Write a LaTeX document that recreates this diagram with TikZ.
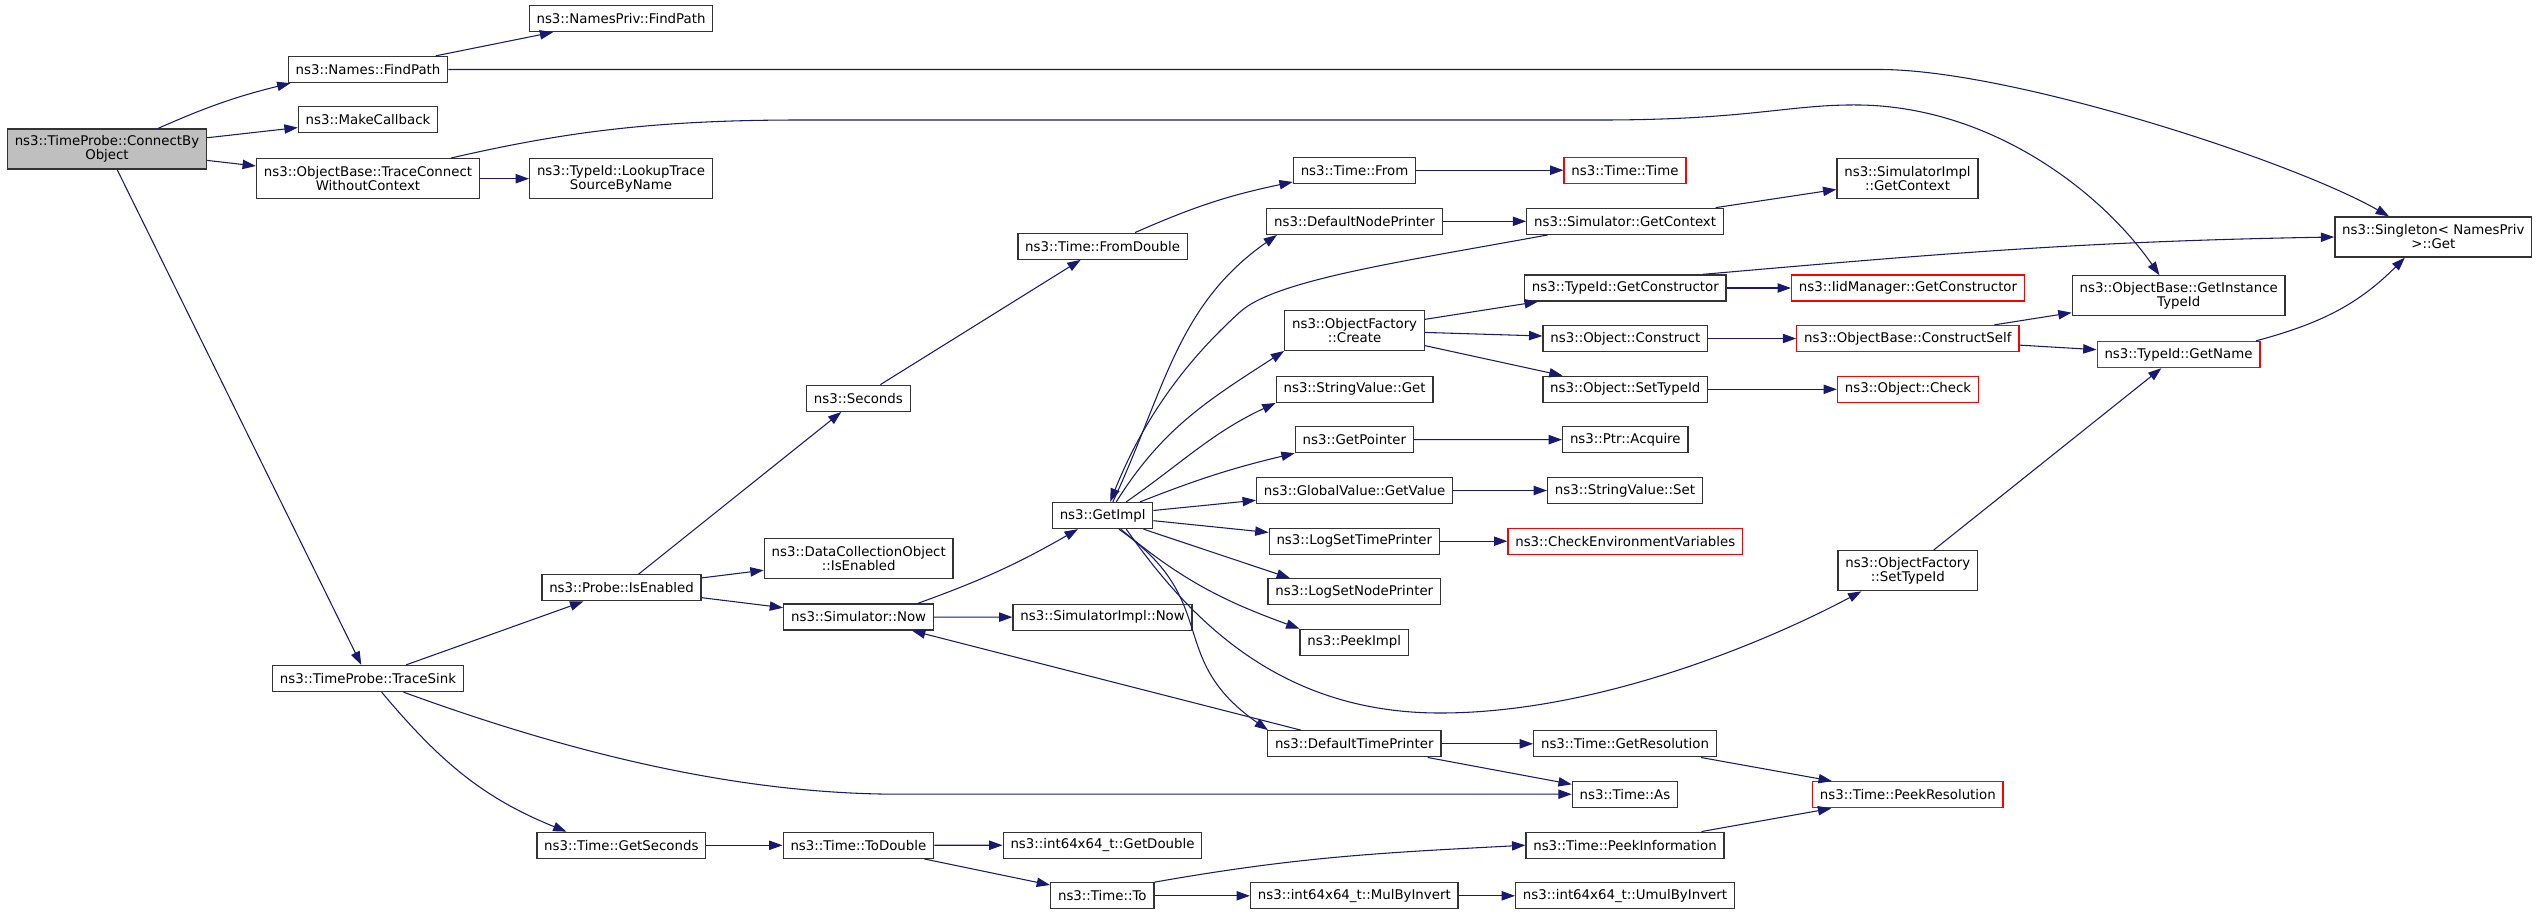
\documentclass[tikz,border=0pt]{standalone}
\usepackage{fontspec}
\setmainfont{DejaVu Sans}
\usetikzlibrary{arrows.meta}

\definecolor{callblue}{HTML}{191970}
\definecolor{rootgray}{HTML}{BFBFBF}

\tikzset{
  fn/.style={draw=black!80, line width=1pt, fill=white, inner xsep=5.5pt,
    inner ysep=2pt, minimum height=19.5pt, align=center,
    font=\fontsize{10}{10.5}\selectfont},
  fnred/.style={fn, draw=red},
  fntwo/.style={fn, minimum height=30pt},
  call/.style={draw=callblue, line width=0.8pt,
    -{Triangle[length=10pt,width=7pt]}}
}

\begin{document}
\begin{tikzpicture}[x=0.75pt,y=0.75pt]
      \useasboundingbox (0,0) rectangle (2539,-915);



      \node[fntwo, fill=rootgray] (cbo) at (107,-149) {ns3::TimeProbe::ConnectBy\\Object};

      \node[fn] (nfp) at (368,-69.5) {ns3::Names::FindPath};
      \node[fn] (mcb) at (368,-119.7) {ns3::MakeCallback};
      \node[fntwo] (tcwc) at (368,-178.7) {ns3::ObjectBase::TraceConnect\\WithoutContext};
      \node[fn] (ts) at (368,-678.5) {ns3::TimeProbe::TraceSink};

      \node[fn] (npfp) at (621,-18.5) {ns3::NamesPriv::FindPath};
      \node[fntwo] (ltsn) at (621,-178.7) {ns3::TypeId::LookupTrace\\SourceByName};
      \node[fn] (pie) at (621.5,-587.8) {ns3::Probe::IsEnabled};
      \node[fn] (gs) at (621.3,-845.3) {ns3::Time::GetSeconds};

      \node[fn] (sec) at (858.4,-398.3) {ns3::Seconds};
      \node[fntwo] (dco) at (858.7,-558.5) {ns3::DataCollectionObject\\::IsEnabled};
      \node[fn] (snow) at (858.6,-617) {ns3::Simulator::Now};
      \node[fn] (td) at (858.4,-845.3) {ns3::Time::ToDouble};

      \node[fn] (fd) at (1102.6,-246.2) {ns3::Time::FromDouble};
      \node[fn] (gi) at (1102.6,-515.5) {ns3::GetImpl};
      \node[fn] (sin) at (1102.6,-617.2) {ns3::SimulatorImpl::Now};
      \node[fn] (gd) at (1102.5,-845.2) {ns3::int64x64\_t::GetDouble};
      \node[fn] (tto) at (1102.3,-895.8) {ns3::Time::To};

      \node[fn] (tf) at (1354.5,-170.2) {ns3::Time::From};
      \node[fn] (dnp) at (1354.5,-221.3) {ns3::DefaultNodePrinter};
      \node[fntwo] (ofc) at (1354.6,-330.3) {ns3::ObjectFactory\\::Create};
      \node[fn] (svg) at (1354.6,-389.3) {ns3::StringValue::Get};
      \node[fn] (gp) at (1354.4,-439.5) {ns3::GetPointer};
      \node[fn] (ggv) at (1354.6,-490.5) {ns3::GlobalValue::GetValue};
      \node[fn] (lstp) at (1354.3,-541.2) {ns3::LogSetTimePrinter};
      \node[fn] (lsnp) at (1354.3,-591.8) {ns3::LogSetNodePrinter};
      \node[fn] (peek) at (1354.3,-642.3) {ns3::PeekImpl};
      \node[fn] (dtp) at (1354.3,-743.8) {ns3::DefaultTimePrinter};
      \node[fn] (mbi) at (1354.3,-895.8) {ns3::int64x64\_t::MulByInvert};

      \node[fnred] (tt) at (1625,-170.2) {ns3::Time::Time};
      \node[fn] (sgc) at (1625.1,-221.3) {ns3::Simulator::GetContext};
      \node[fn] (tgc) at (1625.3,-288) {ns3::TypeId::GetConstructor};
      \node[fn] (oc) at (1625.3,-338.5) {ns3::Object::Construct};
      \node[fn] (ost) at (1625.3,-389.3) {ns3::Object::SetTypeId};
      \node[fn] (pa) at (1625.3,-439.7) {ns3::Ptr::Acquire};
      \node[fn] (svs) at (1625,-490.5) {ns3::StringValue::Set};
      \node[fnred] (cev) at (1625.3,-541.2) {ns3::CheckEnvironmentVariables};
      \node[fn] (tgr) at (1625,-743.8) {ns3::Time::GetResolution};
      \node[fn] (tas) at (1625,-794.2) {ns3::Time::As};
      \node[fn] (tpi) at (1625,-845.2) {ns3::Time::PeekInformation};
      \node[fn] (umi) at (1625,-895.8) {ns3::int64x64\_t::UmulByInvert};

      \node[fntwo] (sigc) at (1907.5,-178.7) {ns3::SimulatorImpl\\::GetContext};
      \node[fnred] (igc) at (1908,-288) {ns3::IidManager::GetConstructor};
      \node[fnred] (ocs) at (1907.8,-338.5) {ns3::ObjectBase::ConstructSelf};
      \node[fnred] (ochk) at (1908,-389.3) {ns3::Object::Check};
      \node[fntwo] (ofst) at (1907.8,-570.7) {ns3::ObjectFactory\\::SetTypeId};
      \node[fnred] (tpr) at (1907.8,-794.7) {ns3::Time::PeekResolution};

      \node[fntwo] (gitid) at (2178.7,-295.8) {ns3::ObjectBase::GetInstance\\TypeId};
      \node[fnred] (tgn) at (2178.5,-354.5) {ns3::TypeId::GetName};

      \node[fntwo] (sng) at (2433.3,-237) {ns3::Singleton< NamesPriv\\>::Get};



      \draw[call] (cbo.22) to[bend left=5] (nfp.190);
      \draw[call] (cbo) -- (mcb);
      \draw[call] (cbo) -- (tcwc);
      \draw[call] (cbo) -- (ts);

      \draw[call] (nfp) -- (npfp);
      \draw[call] (nfp.east) -- (1880,-69.5) .. controls (2010,-69.5) and (2290,-160) .. (sng.155);
      \draw[call] (tcwc) -- (ltsn);
      \draw[call] (tcwc.14) .. controls (560,-133) and (650,-120) .. (800,-120) -- (1600,-120)
        .. controls (1750,-120) and (1790,-104) .. (1860,-105)
        .. controls (1990,-107) and (2100,-190) .. (gitid.133);

      \draw[call] (ts) -- (pie);
      \draw[call] (ts.-21) .. controls (600,-764) and (760,-794.2) .. (900,-794.2) -- (tas.west);
      \draw[call] (ts.-45) to[out=-50,in=158] (gs.166);

      \draw[call] (pie) -- (sec);
      \draw[call] (pie) -- (dco);
      \draw[call] (pie) -- (snow);
      \draw[call] (sec) -- (fd);
      \draw[call] (fd) to[bend left=6] (tf);
      \draw[call] (tf) -- (tt);

      \draw[call] (snow.13) to[bend right=5] (gi.209);
      \draw[call] (snow) -- (sin);

      \draw[call] (gi.53) to[out=65,in=215] (dnp.190);
      \draw[call] (sgc.190) .. controls (1400,-262) and (1275,-280) .. (1240,-312)
        .. controls (1170,-375) and (1135,-440) .. (gi.61);
      \draw[call] (gi.45) to[out=58,in=213] (ofc.south west);
      \draw[call] (gi.30) to[out=35,in=205] (svg.south west);
      \draw[call] (gi.20) to[bend left=4] (gp.south west);
      \draw[call] (gi) -- (ggv);
      \draw[call] (gi) -- (lstp);
      \draw[call] (gi) -- (lsnp.168);
      \draw[call] (gi.-37) to[out=-40,in=160] (peek.north west);
      \draw[call] (gi.-40) to[out=-35,in=145,looseness=1.3] (dtp.171);
      \draw[call] (gi.-30) .. controls (1190,-620) and (1280,-713) .. (1440,-713)
        .. controls (1600,-713) and (1770,-640) .. (ofst.204);

      \draw[call] (dnp) -- (sgc);
      \draw[call] (sgc) -- (sigc);
      \draw[call] (ofc) -- (tgc);
      \draw[call] (ofc) -- (oc);
      \draw[call] (ofc) -- (ost);
      \draw[call] (tgc) -- (igc);
      \draw[call] (tgc.10) to[out=5,in=181] (sng.west);
      \draw[call] (oc) -- (ocs);
      \draw[call] (ost) -- (ochk);
      \draw[call] (ocs) -- (gitid);
      \draw[call] (ocs) -- (tgn);
      \draw[call] (tgn.10) to[out=15,in=225] (sng.216);
      \draw[call] (ofst) -- (tgn);

      \draw[call] (gp) -- (pa);
      \draw[call] (ggv) -- (svs);
      \draw[call] (lstp) -- (cev);

      \draw[call] (dtp) -- (snow);
      \draw[call] (dtp) -- (tgr);
      \draw[call] (dtp) -- (tas);
      \draw[call] (tgr) -- (tpr);

      \draw[call] (gs) -- (td);
      \draw[call] (td) -- (gd);
      \draw[call] (td) -- (tto);
      \draw[call] (tto) -- (mbi);
      \draw[call] (tto.north east) to[out=10,in=183] (tpi.west);
      \draw[call] (mbi) -- (umi);
      \draw[call] (tpi) -- (tpr);
    \end{tikzpicture}
\end{document}
